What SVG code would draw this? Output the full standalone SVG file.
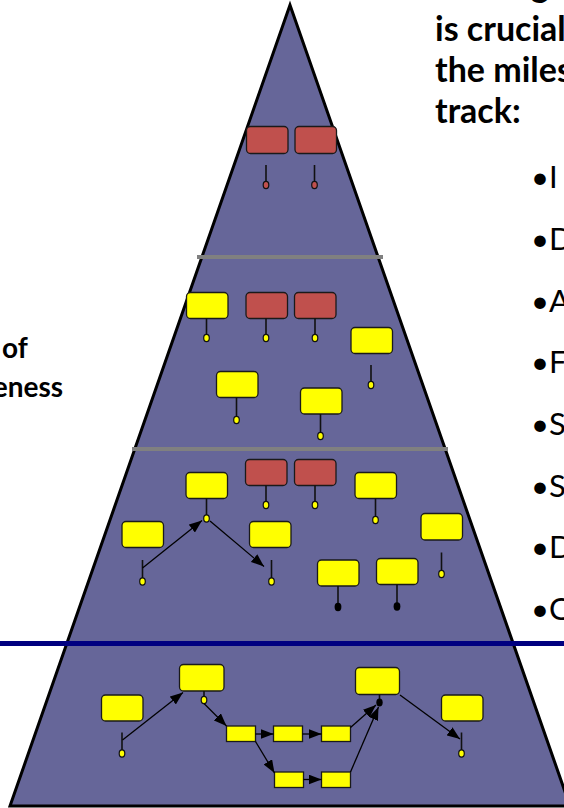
<svg xmlns="http://www.w3.org/2000/svg" width="564" height="808" viewBox="0 0 564 808">
  <style>
    .pyr { fill: #666699; stroke: #000; stroke-width: 3; stroke-linejoin: miter; }
    .sep { stroke: #808080; stroke-width: 4; }
    .base { stroke: #000080; stroke-width: 5; }
    .task { stroke: #1a1a1a; stroke-width: 1.3; }
    .yel { fill: #ffff00; }
    .red { fill: #c0504d; }
    .stem { stroke: #111; stroke-width: 1.6; }
    .dot { stroke: #111; stroke-width: 1.2; }
    .blk { fill: #000; }
    .arr { stroke: #000; stroke-width: 1.3; fill: none; marker-end: url(#head); }
    .head { font-family: Lato, "Open Sans", sans-serif; font-weight: 700; font-size: 34px; fill: #000; }
    .side { font-family: Lato, "Open Sans", sans-serif; font-weight: 700; font-size: 28px; fill: #000; }
    .item { font-family: Lato, "Open Sans", sans-serif; font-size: 31px; fill: #000; }
  </style>
  <defs>
    <marker id="head" viewBox="0 0 13 10" refX="13" refY="5" markerWidth="13" markerHeight="10" markerUnits="userSpaceOnUse" orient="auto">
      <path d="M0,0 L13,5 L0,10 z" fill="#000"/>
    </marker>
  </defs>

  <!-- pyramid and level separators -->
  <polygon class="pyr" points="290,5 10,806 570,806"/>
  <line class="sep" x1="197" y1="257" x2="383" y2="257"/>
  <line class="sep" x1="132" y1="449" x2="448" y2="449"/>
  <line class="base" x1="0" y1="643.5" x2="564" y2="643.5"/>

  <!-- side texts -->
  <text class="side" x="2" y="358">of</text>
  <text class="side" x="63" y="397" text-anchor="end">eness</text>
  <text class="head" x="531" y="-3">g</text>
  <text class="head" x="435" y="41">is crucial</text>
  <text class="head" x="435" y="82">the miles</text>
  <text class="head" x="435" y="123">track:</text>
  <g class="item">
    <text x="531" y="188">•</text><text x="549" y="188">I</text>
    <text x="531" y="250">•</text><text x="549" y="250">D</text>
    <text x="531" y="312">•</text><text x="549" y="312">A</text>
    <text x="531" y="373">•</text><text x="549" y="373">F</text>
    <text x="531" y="435">•</text><text x="549" y="435">S</text>
    <text x="531" y="497">•</text><text x="549" y="497">S</text>
    <text x="531" y="558">•</text><text x="549" y="558">D</text>
    <text x="531" y="620">•</text><text x="549" y="620">C</text>
  </g>

  <!-- level 1 -->
  <g id="t1a"><rect class="task red" x="246.5" y="126.5" width="41.5" height="27" rx="4"/><line class="stem" x1="266" y1="165" x2="266" y2="182"/><ellipse class="dot red" cx="266" cy="185" rx="2.8" ry="3.6"/></g>
  <g id="t1b"><rect class="task red" x="295" y="126.5" width="41.5" height="27" rx="4"/><line class="stem" x1="314.5" y1="165" x2="314.5" y2="182"/><ellipse class="dot red" cx="314.5" cy="185" rx="2.8" ry="3.6"/></g>

  <!-- level 2 -->
  <g id="t2a"><rect class="task yel" x="186.5" y="292.5" width="41.5" height="26" rx="4"/><line class="stem" x1="206.5" y1="318.5" x2="206.5" y2="335"/><ellipse class="dot yel" cx="206.5" cy="338" rx="2.8" ry="3.6"/></g>
  <g id="t2b"><rect class="task red" x="246" y="292.5" width="41.5" height="26" rx="4"/><line class="stem" x1="266" y1="318.5" x2="266" y2="335"/><ellipse class="dot yel" cx="266" cy="338" rx="2.8" ry="3.6"/></g>
  <g id="t2c"><rect class="task red" x="294.5" y="292.5" width="41.5" height="26" rx="4"/><line class="stem" x1="315" y1="318.5" x2="315" y2="335"/><ellipse class="dot yel" cx="315" cy="338" rx="2.8" ry="3.6"/></g>
  <g id="t2d"><rect class="task yel" x="351" y="327.5" width="41.5" height="26" rx="4"/><line class="stem" x1="371" y1="365" x2="371" y2="382"/><ellipse class="dot yel" cx="371" cy="385" rx="2.8" ry="3.6"/></g>
  <g id="t2e"><rect class="task yel" x="216.5" y="371.5" width="41.5" height="26" rx="4"/><line class="stem" x1="236.5" y1="397.5" x2="236.5" y2="417"/><ellipse class="dot yel" cx="236.5" cy="420" rx="2.8" ry="3.6"/></g>
  <g id="t2f"><rect class="task yel" x="300.5" y="388" width="41.5" height="26" rx="4"/><line class="stem" x1="320.5" y1="414" x2="320.5" y2="433"/><ellipse class="dot yel" cx="320.5" cy="436" rx="2.8" ry="3.6"/></g>

  <!-- level 3 -->
  <g id="t3a"><rect class="task yel" x="186" y="472.5" width="41.5" height="26" rx="4"/><line class="stem" x1="206.5" y1="498.5" x2="206.5" y2="515.5"/><ellipse class="dot yel" cx="206.5" cy="518.5" rx="2.8" ry="3.6"/></g>
  <g id="t3b"><rect class="task red" x="245.5" y="459.5" width="41.5" height="26" rx="4"/><line class="stem" x1="266" y1="485.5" x2="266" y2="502"/><ellipse class="dot yel" cx="266" cy="505" rx="2.8" ry="3.6"/></g>
  <g id="t3c"><rect class="task red" x="294.5" y="459.5" width="41.5" height="26" rx="4"/><line class="stem" x1="315" y1="485.5" x2="315" y2="502"/><ellipse class="dot yel" cx="315" cy="505" rx="2.8" ry="3.6"/></g>
  <g id="t3d"><rect class="task yel" x="355" y="472.5" width="41.5" height="26" rx="4"/><line class="stem" x1="375.5" y1="498.5" x2="375.5" y2="517"/><ellipse class="dot yel" cx="375.5" cy="520" rx="2.8" ry="3.6"/></g>
  <g id="t3e"><rect class="task yel" x="122" y="521.5" width="41.5" height="26" rx="4"/><line class="stem" x1="142.5" y1="560" x2="142.5" y2="578.5"/><ellipse class="dot yel" cx="142.5" cy="581.5" rx="2.8" ry="3.6"/></g>
  <g id="t3f"><rect class="task yel" x="249.5" y="521.5" width="41.5" height="26" rx="4"/><line class="stem" x1="271.5" y1="560" x2="271.5" y2="578.5"/><ellipse class="dot yel" cx="271.5" cy="581.5" rx="2.8" ry="3.6"/></g>
  <g id="t3g"><rect class="task yel" x="421" y="513.5" width="41.5" height="26.5" rx="4"/><line class="stem" x1="441.5" y1="552.5" x2="441.5" y2="571"/><ellipse class="dot yel" cx="441.5" cy="574" rx="2.8" ry="3.6"/></g>
  <g id="t3h"><rect class="task yel" x="317.5" y="560" width="41.5" height="26" rx="4"/><line class="stem" x1="338" y1="586" x2="338" y2="604"/><ellipse class="blk" cx="338" cy="607" rx="3.4" ry="4.2"/></g>
  <g id="t3i"><rect class="task yel" x="376.5" y="558.5" width="41.5" height="26" rx="4"/><line class="stem" x1="397" y1="584.5" x2="397" y2="603"/><ellipse class="blk" cx="397" cy="606.5" rx="3.4" ry="4.2"/></g>

  <!-- level 4 -->
  <g id="t4a"><rect class="task yel" x="101.5" y="695" width="41.5" height="26" rx="4"/><line class="stem" x1="122" y1="732.5" x2="122" y2="750.5"/><ellipse class="dot yel" cx="122" cy="753.5" rx="2.8" ry="3.6"/></g>
  <g id="t4b"><rect class="task yel" x="179.5" y="664.5" width="44.5" height="26.5" rx="4"/><line class="stem" x1="204" y1="691" x2="204" y2="697"/><ellipse class="dot yel" cx="204" cy="700" rx="2.8" ry="3.6"/></g>
  <g id="t4c"><rect class="task yel" x="355.5" y="667.5" width="44" height="27" rx="4"/><line class="stem" x1="379.5" y1="694.5" x2="379.5" y2="700"/><ellipse class="blk" cx="379.5" cy="702.5" rx="3.2" ry="4"/></g>
  <g id="t4d"><rect class="task yel" x="441.5" y="695" width="41.5" height="26" rx="4"/><line class="stem" x1="461.5" y1="732.5" x2="461.5" y2="750.5"/><ellipse class="dot yel" cx="461.5" cy="753.5" rx="2.8" ry="3.6"/></g>
  <g id="s1"><rect class="task yel" x="226.5" y="726" width="29" height="15.5"/></g>
  <g id="s2"><rect class="task yel" x="273.5" y="726" width="29" height="15.5"/></g>
  <g id="s3"><rect class="task yel" x="321.5" y="726" width="29" height="15.5"/></g>
  <g id="s4"><rect class="task yel" x="274.5" y="772" width="29" height="15.5"/></g>
  <g id="s5"><rect class="task yel" x="321.5" y="772" width="29" height="15.5"/></g>

  <!-- dependency connectors -->
  <g id="connectors">
    <line class="arr" x1="142.5" y1="568" x2="202" y2="520.5"/>
    <line class="arr" x1="210" y1="521" x2="264" y2="566.5"/>
    <line class="arr" x1="122.5" y1="740" x2="183" y2="692.5"/>
    <line class="arr" x1="204" y1="703.5" x2="226.5" y2="726"/>
    <line class="arr" x1="255.5" y1="734" x2="273.5" y2="734"/>
    <line class="arr" x1="302.5" y1="734" x2="321.5" y2="734"/>
    <line class="arr" x1="303.5" y1="779.5" x2="321.5" y2="779.5"/>
    <line class="arr" x1="255.5" y1="741.5" x2="274.5" y2="773"/>
    <line class="arr" x1="350.5" y1="727.5" x2="376" y2="705"/>
    <line class="arr" x1="350.5" y1="772" x2="378.5" y2="707"/>
    <line class="arr" x1="400" y1="695" x2="460" y2="739"/>
  </g>
</svg>
